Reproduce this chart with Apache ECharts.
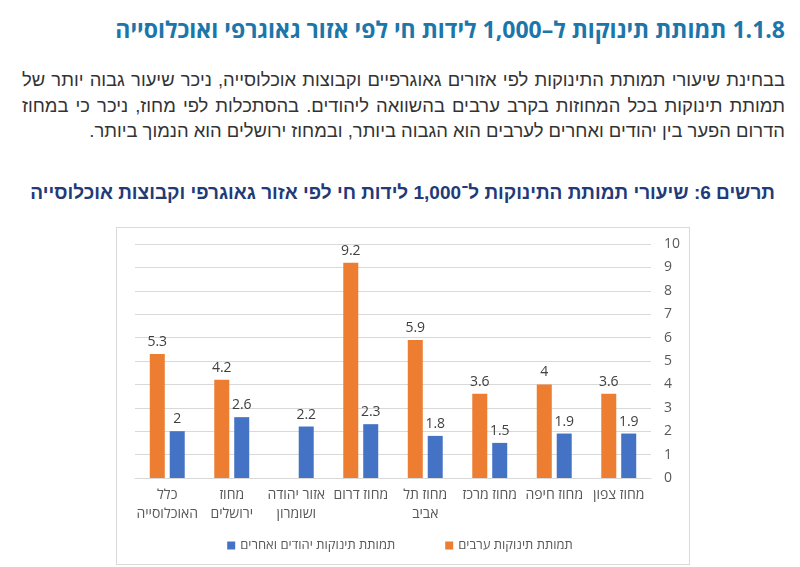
<!DOCTYPE html>
<html lang="he">
<head>
<meta charset="utf-8">
<script src="https://cdn.jsdelivr.net/npm/echarts@6/dist/echarts.min.js"></script>
<style>
  html,body{margin:0;padding:0;background:#fff;}
  body{width:800px;height:567px;position:relative;overflow:hidden;}
  .txt{position:absolute;direction:rtl;white-space:nowrap;}
  #h{right:15px;top:14px;font:bold 23px 'Open Sans','Liberation Sans',Arial,sans-serif;color:#1c76aa;line-height:31px;}
  #p{left:22px;right:15px;top:67px;font:18.4px 'Liberation Sans',Arial,sans-serif;color:#333;white-space:normal;}
  #p div{height:25.5px;line-height:25.5px;text-align:justify;white-space:nowrap;}
  #p div.j{text-align-last:justify;white-space:normal;}
  #t{right:25px;top:180px;font:bold 19px 'Liberation Sans',Arial,sans-serif;color:#233a78;line-height:26px;}
  #box{position:absolute;left:116px;top:227px;width:572px;height:336px;border:1px solid #d9d9d9;}
  #chart{position:absolute;left:0;top:0;width:800px;height:567px;}
</style>
</head>
<body>
<div id="h" class="txt">1.1.8 תמותת תינוקות ל–1,000 לידות חי לפי אזור גאוגרפי ואוכלוסייה</div>
<div id="p" class="txt">
  <div class="j">בבחינת שיעורי תמותת התינוקות לפי אזורים גאוגרפיים וקבוצות אוכלוסייה, ניכר שיעור גבוה יותר של</div>
  <div class="j">תמותת תינוקות בכל המחוזות בקרב ערבים בהשוואה ליהודים. בהסתכלות לפי מחוז, ניכר כי במחוז</div>
  <div>הדרום הפער בין יהודים ואחרים לערבים הוא הגבוה ביותר, ובמחוז ירושלים הוא הנמוך ביותר.</div>
</div>
<div id="t" class="txt">תרשים 6: שיעורי תמותת התינוקות ל־1,000 לידות חי לפי אזור גאוגרפי וקבוצות אוכלוסייה</div>
<div id="box"></div>
<div id="chart" dir="rtl"></div>
<script>
const categories = ['מחוז צפון', 'מחוז חיפה', 'מחוז מרכז', 'מחוז תל\nאביב', 'מחוז דרום', 'אזור יהודה\nושומרון', 'מחוז\nירושלים', 'כלל\nהאוכלוסייה'];
const arabName = 'תמותת תינוקות ערבים';
const jewishName = 'תמותת תינוקות יהודים ואחרים';
const arabValues = [3.6, 4, 3.6, 5.9, 9.2, null, 4.2, 5.3];
const jewishValues = [1.9, 1.9, 1.5, 1.8, 2.3, 2.2, 2.6, 2];
const yMin = 0, yMax = 10, yInterval = 1;

const font = "'Open Sans','Liberation Sans',Arial,sans-serif";
const chart = echarts.init(document.getElementById('chart'), null, {renderer: 'canvas'});
const labelStyle = {show: true, position: 'top', color: '#404040', fontSize: 14, fontFamily: font, distance: 5};
chart.setOption({
  animation: false,
  backgroundColor: 'transparent',
  grid: {left: 135, right: 149, top: 244, bottom: 89, containLabel: false},
  legend: {
    data: [jewishName, arabName],
    left: 'center',
    top: 534,
    itemWidth: 8,
    itemHeight: 8,
    itemGap: 50,
    icon: 'rect',
    textStyle: {color: '#595959', fontSize: 13, fontFamily: font}
  },
  xAxis: {
    type: 'category',
    data: categories,
    inverse: true,
    axisLine: {lineStyle: {color: '#d9d9d9'}},
    axisTick: {show: false},
    axisLabel: {color: '#595959', fontSize: 14, fontFamily: font, lineHeight: 19, margin: 8, interval: 0}
  },
  yAxis: {
    type: 'value',
    position: 'right',
    min: yMin, max: yMax, interval: yInterval,
    axisLine: {show: false},
    axisTick: {show: false},
    splitLine: {lineStyle: {color: '#d9d9d9'}},
    axisLabel: {color: '#595959', fontSize: 14, fontFamily: font, margin: 13}
  },
  series: [
    {name: arabName, type: 'bar', data: arabValues, barWidth: 15, barGap: '33%', itemStyle: {color: '#ed7d31'}, label: labelStyle},
    {name: jewishName, type: 'bar', data: jewishValues, barWidth: 15, barGap: '33%', itemStyle: {color: '#4472c4'}, label: labelStyle}
  ]
});
</script>
</body>
</html>
